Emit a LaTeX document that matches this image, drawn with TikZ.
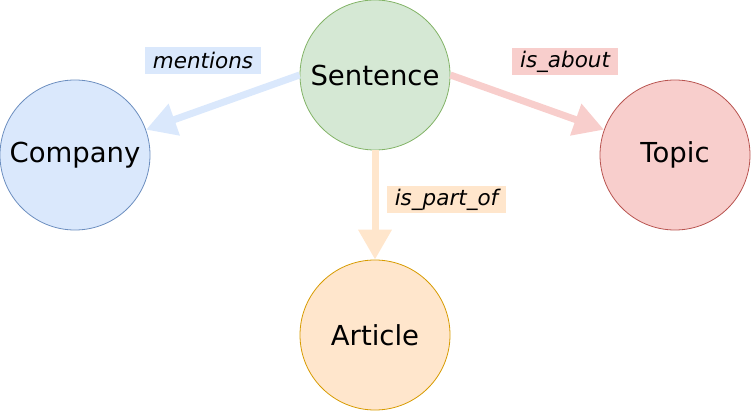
\documentclass[tikz,border=0pt]{standalone}
\usepackage{fontspec}
\setmainfont{DejaVu Sans}
\usetikzlibrary{arrows.meta}
\definecolor{blueFill}{HTML}{DAE8FC}
\definecolor{blueLine}{HTML}{6C8EBF}
\definecolor{greenFill}{HTML}{D5E8D4}
\definecolor{greenLine}{HTML}{82B366}
\definecolor{redFill}{HTML}{F8CECC}
\definecolor{redLine}{HTML}{B85450}
\definecolor{orangeFill}{HTML}{FFE6CC}
\definecolor{orangeLine}{HTML}{D79B00}

\begin{document}
\begin{tikzpicture}[x=1pt, y=-1pt,
		entity/.style = {circle, draw, line width=0.8pt, minimum size=150pt, inner sep=0pt, font=\fontsize{27.5}{32}\selectfont},
		relation/.style = {line width=7pt, -{Triangle[width=32pt, length=30pt]}},
		rellabel/.style = {inner xsep=8pt, inner ysep=0pt, minimum height=27pt, font=\fontsize{21.5}{25}\selectfont\itshape}]
	
	\useasboundingbox (0,0) rectangle (751,411);
	
	\node[entity, fill=greenFill, draw=greenLine] (sentence) at (375,75) {Sentence};
	\node[entity, fill=blueFill, draw=blueLine] (company) at (75,155) {Company};
	\node[entity, fill=redFill, draw=redLine] (topic) at (675,155) {Topic};
	\node[entity, fill=orangeFill, draw=orangeLine] (article) at (375,335) {Article};
	
	\draw[relation, blueFill] (sentence.west) -- (company);
	\draw[relation, redFill] (sentence.east) -- (topic);
	\draw[relation, orangeFill] (sentence.south) -- (article.north);
	
	\node[rellabel, fill=blueFill] (mentions) at (203,60.5) {mentions};
	\node[rellabel, fill=redFill] (isabout) at (565,61.5) {is\_about};
	\node[rellabel, fill=orangeFill] (ispartof) at (446.5,200) {is\_part\_of};
	
\end{tikzpicture}
\end{document}
